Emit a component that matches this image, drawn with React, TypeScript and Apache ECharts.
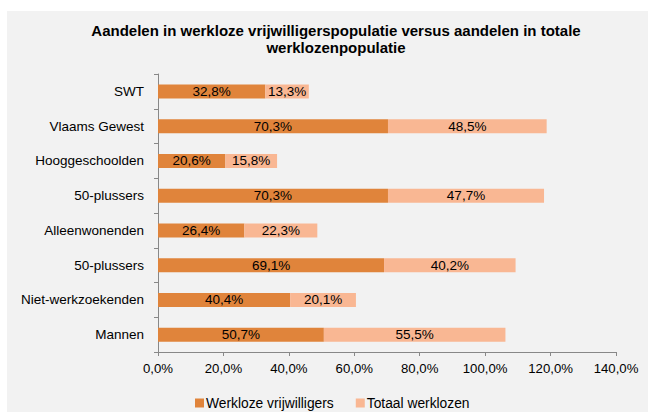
import React, { useEffect, useRef } from "react";
import * as echarts from "echarts";

const categories = [
  "SWT",
  "Vlaams Gewest",
  "Hooggeschoolden",
  "50-plussers",
  "Alleenwonenden",
  "50-plussers",
  "Niet-werkzoekenden",
  "Mannen",
];
const werklozeVrijwilligers = [32.8, 70.3, 20.6, 70.3, 26.4, 69.1, 40.4, 50.7];
const totaalWerklozen = [13.3, 48.5, 15.8, 47.7, 22.3, 40.2, 20.1, 55.5];
const seriesNames = ["Werkloze vrijwilligers", "Totaal werklozen"];
const titleText =
  "Aandelen in werkloze vrijwilligerspopulatie versus aandelen in totale\nwerklozenpopulatie";

const fmt = (v: number) => v.toFixed(1).replace(".", ",") + "%";
const FONT = "Liberation Sans, Arial, sans-serif";

export default function App() {
  const ref = useRef<HTMLDivElement>(null);
  useEffect(() => {
    if (!ref.current) return;
    const chart = echarts.init(ref.current, undefined, { renderer: "svg" });
    const labelCfg = {
      show: true,
      position: "inside",
      color: "#000",
      fontFamily: FONT,
      fontSize: 13.5,
      formatter: (p: any) => fmt(p.value),
    };
    chart.setOption({
      animation: false,
      textStyle: { fontFamily: FONT },
      graphic: [
        {
          type: "rect",
          z: -10,
          silent: true,
          shape: { x: 7, y: 11, width: 648, height: 412 },
          style: { fill: "#f2f2f2" },
        },
      ],
      title: {
        text: titleText,
        left: 331,
        top: 17,
        textAlign: "center",
        textStyle: {
          fontFamily: FONT,
          fontSize: 15,
          fontWeight: "bold",
          color: "#000",
          lineHeight: 17,
        },
      },
      legend: {
        data: seriesNames,
        left: 190,
        top: 391,
        icon: "rect",
        itemWidth: 9,
        itemHeight: 9,
        itemGap: 22,
        textStyle: { fontFamily: FONT, fontSize: 13.8, color: "#000", padding: [0, 0, 0, -3] },
      },
      grid: { left: 158, right: 32, top: 74, bottom: 60, containLabel: false },
      xAxis: {
        type: "value",
        min: 0,
        max: 140,
        interval: 20,
        axisLine: { show: true, lineStyle: { color: "#888" } },
        axisTick: { show: true, length: 4, lineStyle: { color: "#888" } },
        splitLine: { show: false },
        axisLabel: {
          formatter: (v: number) => fmt(v),
          fontFamily: FONT,
          fontSize: 13.2,
          color: "#000",
          margin: 10,
        },
      },
      yAxis: {
        type: "category",
        data: categories,
        inverse: true,
        axisLine: { show: true, lineStyle: { color: "#888" } },
        axisTick: { show: true, length: 4, alignWithLabel: false, lineStyle: { color: "#888" } },
        axisLabel: { fontFamily: FONT, fontSize: 13.5, color: "#000", margin: 14 },
      },
      series: [
        {
          name: seriesNames[0],
          type: "bar",
          stack: "a",
          barWidth: 14,
          data: werklozeVrijwilligers,
          itemStyle: { color: "#E0843B" },
          label: labelCfg,
        },
        {
          name: seriesNames[1],
          type: "bar",
          stack: "a",
          barWidth: 14,
          data: totaalWerklozen,
          itemStyle: { color: "#F9B793" },
          label: labelCfg,
        },
      ],
    });
    return () => chart.dispose();
  }, []);
  return (
    <div
      ref={ref}
      style={{ position: "absolute", left: 0, top: 0, width: 648, height: 412 }}
    />
  );
}
